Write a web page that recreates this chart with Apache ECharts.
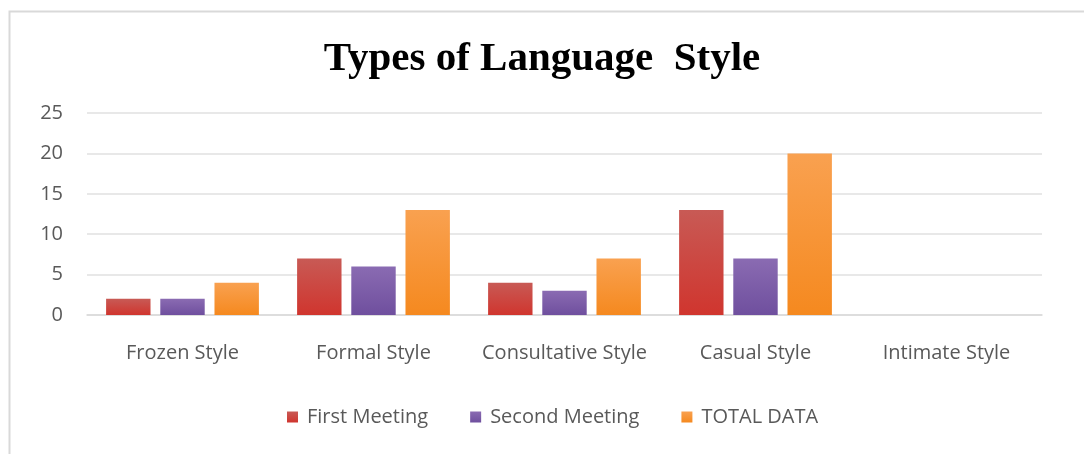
<!DOCTYPE html>
<html>
<head>
<meta charset="utf-8">
<title>Types of Language Style</title>
<script src="https://cdn.jsdelivr.net/npm/echarts@6/dist/echarts.min.js"></script>
<style>
  html, body { margin: 0; padding: 0; background: #fff; }
  #main { width: 1084px; height: 454px; }
</style>
</head>
<body>
<div id="main"></div>
<script>
// data
const categories = ['Frozen Style', 'Formal Style', 'Consultative Style', 'Casual Style', 'Intimate Style'];
const firstMeeting = [2, 7, 4, 13, 0];
const secondMeeting = [2, 6, 3, 7, 0];
const totalData = [4, 13, 7, 20, 0];
const seriesNames = ['First Meeting', 'Second Meeting', 'TOTAL DATA'];

const chart = echarts.init(document.getElementById('main'));

// office-like bars: a bit lighter at the top
function grad(top, bottom) {
  return new echarts.graphic.LinearGradient(0, 0, 0, 1, [
    { offset: 0, color: top },
    { offset: 1, color: bottom }
  ]);
}
const labelFont = '"Open Sans", "Noto Sans", sans-serif';

chart.setOption({
  animation: false,
  backgroundColor: '#fff',
  graphic: [{
    type: 'rect',
    shape: { x: 9.5, y: 11.5, width: 1200, height: 600 },
    style: { fill: 'none', stroke: '#d9d9d9', lineWidth: 2 },
    silent: true
  }],
  title: {
    text: 'Types of Language  Style',
    left: 'center',
    top: 34,
    textStyle: {
      fontFamily: '"Liberation Serif", "Times New Roman", serif',
      fontWeight: 'bold',
      fontSize: 41,
      color: '#000'
    }
  },
  legend: {
    data: seriesNames,
    bottom: 22,
    left: 282,
    itemWidth: 11,
    itemHeight: 11,
    itemGap: 42,
    icon: 'rect',
    textStyle: {
      fontFamily: labelFont,
      fontSize: 20,
      color: '#595959',
      padding: [0, 0, 0, 4]
    }
  },
  grid: { left: 87, right: 42, top: 113, bottom: 139 },
  xAxis: {
    type: 'category',
    data: categories,
    axisLine: { lineStyle: { color: '#d9d9d9', width: 1.5 } },
    axisTick: { show: false },
    axisLabel: {
      interval: 0,
      margin: 28,
      fontFamily: labelFont,
      fontSize: 20,
      color: '#595959'
    }
  },
  yAxis: {
    type: 'value',
    min: 0,
    max: 25,
    interval: 5,
    axisLine: { show: false },
    axisTick: { show: false },
    splitLine: { lineStyle: { color: '#e0e0e0', width: 1.5 } },
    axisLabel: {
      margin: 24,
      fontFamily: labelFont,
      fontSize: 20,
      color: '#595959'
    }
  },
  series: [
    {
      name: seriesNames[0],
      type: 'bar',
      data: firstMeeting,
      barGap: '22%',
      barCategoryGap: '20%',
      itemStyle: { color: grad('#c85a55', '#d0352e') }
    },
    {
      name: seriesNames[1],
      type: 'bar',
      data: secondMeeting,
      itemStyle: { color: grad('#8a6bb2', '#6f4f9e') }
    },
    {
      name: seriesNames[2],
      type: 'bar',
      data: totalData,
      itemStyle: { color: grad('#f9a150', '#f5891f') }
    }
  ]
});
</script>
</body>
</html>
